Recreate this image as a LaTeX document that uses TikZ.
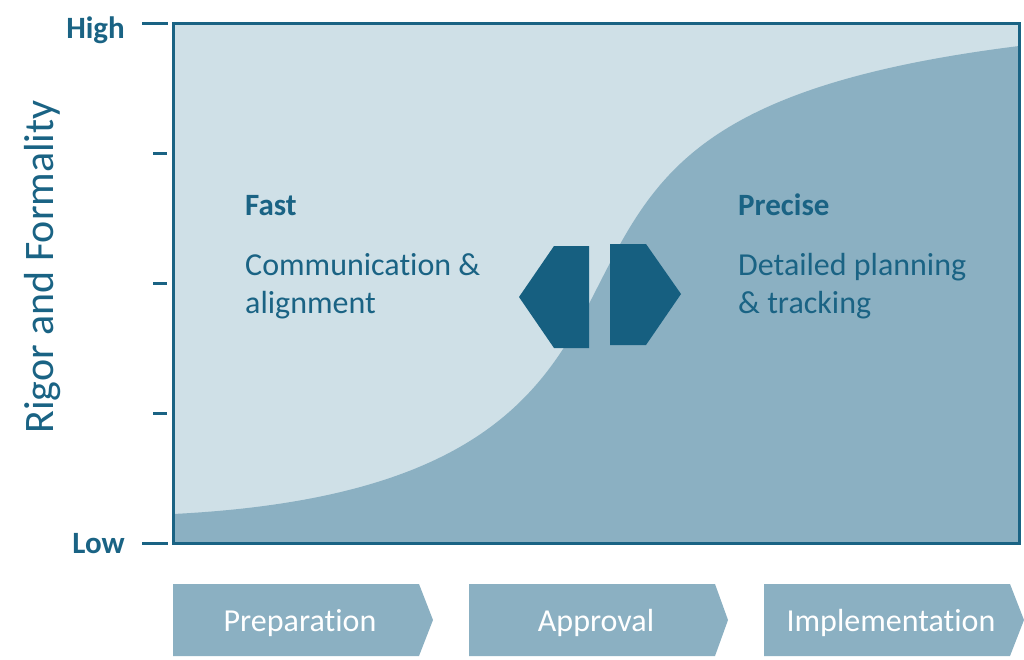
\documentclass[tikz,border=0pt]{standalone}
\usepackage{fontspec}
\setmainfont[Ligatures=NoCommon]{Carlito}
\definecolor{dk}{HTML}{1A6384}
\definecolor{lt}{HTML}{CFE0E7}
\definecolor{md}{HTML}{8BB0C2}
\definecolor{hx}{HTML}{165F80}
\begin{document}
\begin{tikzpicture}[x=1pt,y=-1pt,
  bodytext/.style={text=dk, font=\fontsize{32}{38}\selectfont, align=left, anchor=base west, inner sep=0pt},
  headtext/.style={text=dk, font=\fontsize{31}{38}\selectfont\bfseries, anchor=base west, inner sep=0pt},
  levtext/.style={text=dk, font=\fontsize{31}{36}\selectfont\bfseries, anchor=base east, inner sep=0pt},
  majtick/.style={draw=dk, line width=3pt},
  mintick/.style={draw=dk, line width=3pt},
  chev/.style={fill=md},
  chevtext/.style={text=white, font=\fontsize{32}{38}\selectfont, anchor=base, inner sep=0pt},
  hexa/.style={fill=hx}]
\useasboundingbox (0,0) rectangle (1024,659);
% plot area
\begin{scope}
\clip (173,23) rectangle (1019,543);
\fill[lt] (173,23) rectangle (1019,543);
\fill[md] (173,514) .. controls (473,499) and (542,395.5) .. (592,298)
  .. controls (652,181) and (689,87.25) .. (1019,46) -- (1020,544) -- (172,544) -- cycle;
\end{scope}
\draw[dk, line width=3pt] (173,23) rectangle (1019,543);
% ticks
\draw[majtick] (142,23) -- (168,23);
\draw[mintick] (153,153) -- (167,153);
\draw[mintick] (153,283) -- (167,283);
\draw[mintick] (153,413) -- (167,413);
\draw[majtick] (142,543) -- (168,543);
\node[levtext] (high) at (125,38) {High};
\node[levtext] (low) at (125,553) {Low};
\node[text=dk, font=\fontsize{42}{48}\selectfont, rotate=90, anchor=base, inner sep=0pt] (yaxis) at (53,267) {Rigor and Formality};
% texts
\node[headtext] (fast) at (245,215) {Fast};
\node[bodytext] (comm) at (245,313) {Communication \&\\alignment};
\node[headtext] (precise) at (738,215) {Precise};
\node[bodytext] (plan) at (738,313) {Detailed planning\\\& tracking};
% hexagon arrows
\fill[hexa] (519,297) -- (554,246) -- (589,246) -- (589,348) -- (554,348) -- cycle;
\fill[hexa] (610,244) -- (646,244) -- (681,294) -- (646,345) -- (610,345) -- cycle;
% chevrons
\fill[chev] (173,584) -- (419,584) -- (433,620) -- (419,656) -- (173,656) -- cycle;
\fill[chev] (469,584) -- (715,584) -- (728,620) -- (715,656) -- (469,656) -- cycle;
\fill[chev] (764,584) -- (1010,584) -- (1024,620) -- (1010,656) -- (764,656) -- cycle;
\node[chevtext] (prep) at (300,631) {Preparation};
\node[chevtext] (appr) at (596,631) {Approval};
\node[chevtext] (impl) at (891,631) {Implementation};
\end{tikzpicture}
\end{document}
